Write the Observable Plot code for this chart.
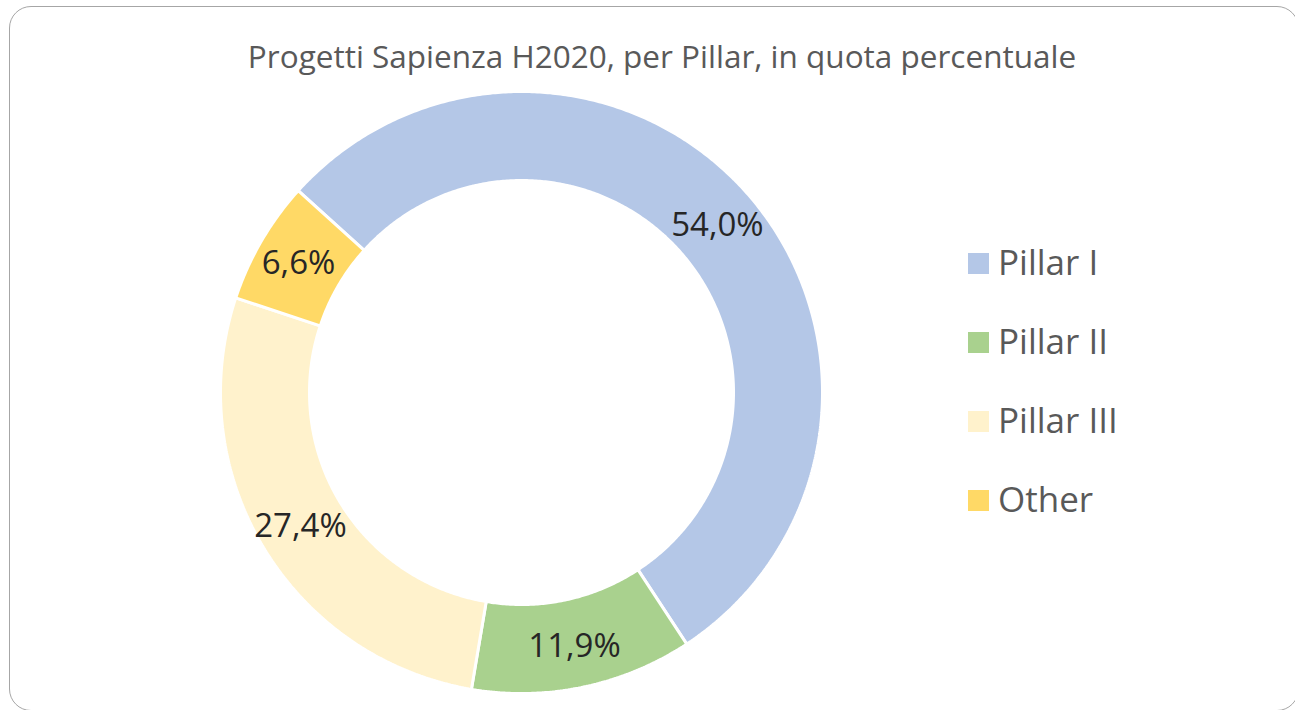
<!DOCTYPE html>
<html>
<head>
<meta charset="utf-8">
<script src="https://cdn.jsdelivr.net/npm/d3@7"></script>
<script src="https://cdn.jsdelivr.net/npm/@observablehq/plot@0.6"></script>
<style>
  html, body { margin: 0; padding: 0; background: #ffffff; }
  #wrap { position: relative; width: 1295px; height: 710px; overflow: hidden; background: #fff; font-family: "Open Sans", sans-serif; }
  #panel { position: absolute; left: 9px; top: 6px; width: 1290px; height: 705px; border: 1.5px solid #a6a6a6; border-radius: 22px; box-sizing: border-box; }
  #chart { position: absolute; left: 0; top: 0; }
  #title { position: absolute; left: 0; width: 1324px; top: 34px; text-align: center; font-size: 31.5px; color: #595959; white-space: nowrap; }
  #legend { position: absolute; left: 968px; top: 243px; }
  .item { display: flex; align-items: flex-end; }
  .sw { width: 21px; height: 21px; margin-right: 9px; margin-bottom: 7px; }
  .lab { font-size: 35px; color: #595959; line-height: 38px; }
</style>
</head>
<body>
<div id="wrap">
  <div id="panel"></div>
  <div id="chart"></div>
  <div id="title"></div>
  <div id="legend"></div>
</div>
<script>
// ---- data ----
const titleText = "Progetti Sapienza H2020, per Pillar, in quota percentuale";
const categories = ["Pillar I", "Pillar II", "Pillar III", "Other"];
const shares = [54.0, 11.9, 27.4, 6.6];
const shareLabels = ["54,0%", "11,9%", "27,4%", "6,6%"];
const colors = ["#b4c7e7", "#a9d18e", "#fff2cc", "#ffd966"];

// ---- layout constants ----
const W = 1295, H = 710;
const cx = 521, cy = 392;         // donut centre in page pixels
const rOuter = 301, rInner = 212, rLabel = 258;
const startDeg = -47.9;           // first slice angle (clockwise from 12 o'clock)

const total = d3.sum(shares);
const rad = Math.PI / 180;

// build slice polygons (data units = pixels relative to centre, y up)
const polyPts = [];
const labelPts = [];
let acc = startDeg;
categories.forEach((cat, i) => {
  const a0 = acc, a1 = acc + shares[i] / total * 360;
  acc = a1;
  const n = Math.max(8, Math.ceil((a1 - a0) / 0.5));
  const pts = [];
  for (let k = 0; k <= n; k++) {
    const a = (a0 + (a1 - a0) * k / n) * rad;
    pts.push({cat, x: rOuter * Math.sin(a), y: rOuter * Math.cos(a)});
  }
  for (let k = n; k >= 0; k--) {
    const a = (a0 + (a1 - a0) * k / n) * rad;
    pts.push({cat, x: rInner * Math.sin(a), y: rInner * Math.cos(a)});
  }
  pts.push({...pts[0]});
  polyPts.push(...pts);
  const am = (a0 + a1) / 2 * rad;
  labelPts.push({cat, label: shareLabels[i], x: rLabel * Math.sin(am), y: rLabel * Math.cos(am)});
});

const plot = Plot.plot({
  width: W,
  height: H,
  margin: 0,
  x: {domain: [-cx, W - cx], axis: null},
  y: {domain: [cy - H, cy], axis: null},
  color: {domain: categories, range: colors},
  marks: [
    Plot.line(polyPts, {x: "x", y: "y", z: "cat", fill: "cat", stroke: "white", strokeWidth: 3, curve: "linear", strokeLinejoin: "miter"}),
    Plot.text(labelPts, {x: "x", y: "y", text: "label", fontSize: 33, fill: "#262626", fontFamily: "Open Sans", textAnchor: "middle", dy: 1})
  ]
});
document.getElementById("chart").appendChild(plot);

document.getElementById("title").textContent = titleText;

const leg = document.getElementById("legend");
categories.forEach((c, i) => {
  const it = document.createElement("div");
  it.className = "item";
  it.style.height = i === 0 ? "38px" : "79px";
  const sw = document.createElement("div");
  sw.className = "sw";
  sw.style.background = colors[i];
  const lb = document.createElement("div");
  lb.className = "lab";
  lb.textContent = c;
  it.appendChild(sw); it.appendChild(lb);
  leg.appendChild(it);
});
</script>
</body>
</html>
